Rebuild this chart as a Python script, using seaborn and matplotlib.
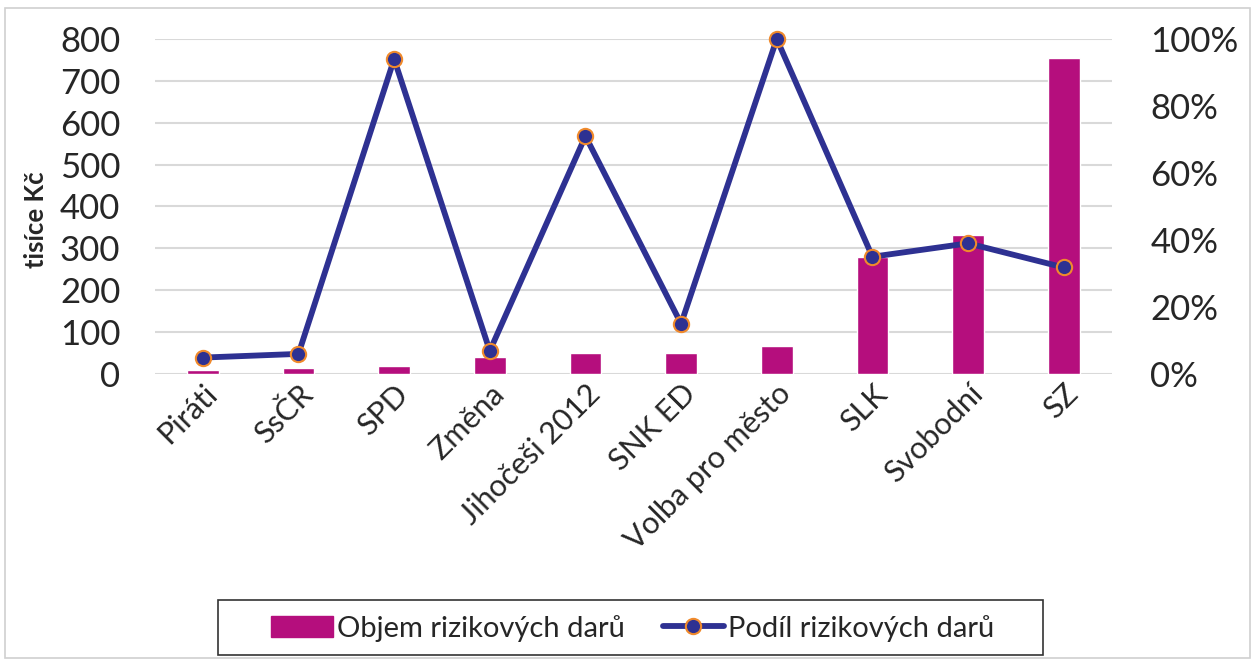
import pandas as pd
import matplotlib.pyplot as plt
import matplotlib.patches as mpatches
from matplotlib.lines import Line2D
from matplotlib.ticker import PercentFormatter
import seaborn as sns

# ========== data ==========
strany = ["Piráti", "SsČR", "SPD", "Změna", "Jihočeši 2012", "SNK ED",
          "Volba pro město", "SLK", "Svobodní", "SZ"]
objem = [10, 14, 19, 40, 49, 49, 68, 279, 332, 754]          # tisíce Kč
podil = [0.049, 0.060, 0.940, 0.069, 0.710, 0.150, 1.000, 0.350, 0.390, 0.318]

df = pd.DataFrame({"strana": strany, "objem": objem, "podil": podil})

BAR = "#B50E7D"
LINE = "#2E3192"
EDGE = "#F08A2C"

sns.set_style("white")
plt.rcParams["font.family"] = ["Lato", "DejaVu Sans"]

fig = plt.figure(figsize=(12.56, 6.65), dpi=100)
ax = fig.add_axes([0.1234, 0.4376, 0.7616, 0.5038])

sns.barplot(data=df, x="strana", y="objem", color=BAR, width=0.33,
            saturation=1, ax=ax, zorder=2)
ax.set_ylim(0, 800)
ax.set_yticks(range(0, 801, 100))
ax.grid(axis="y", color="#D9D9D9", lw=1.5, zorder=0)
ax.set_axisbelow(True)
for s in ax.spines.values():
    s.set_visible(False)
ax.tick_params(axis="y", labelsize=25, length=0, pad=25)
ax.tick_params(axis="x", labelsize=22, length=0, pad=4)
plt.setp(ax.get_xticklabels(), rotation=45, ha="right", rotation_mode="anchor")
ax.set_xlabel("")
ax.set_ylabel("tisíce Kč", fontsize=18.5, fontweight="bold")
ax.yaxis.set_label_coords(-0.112, 0.46)

# ========== secondary axis: share ==========
ax2 = ax.twinx()
sns.pointplot(data=df, x="strana", y="podil", color=LINE, markers="o",
              linewidth=4.2, markersize=11, markeredgecolor=EDGE,
              markeredgewidth=1.5, ax=ax2, clip_on=False)
ax2.set_ylim(0, 1)
ax2.set_yticks([0, 0.2, 0.4, 0.6, 0.8, 1.0])
ax2.yaxis.set_major_formatter(PercentFormatter(1.0, decimals=0))
ax2.tick_params(axis="y", labelsize=25, length=0, pad=28)
ax2.set_ylabel("")
ax2.set_xlabel("")
for s in ax2.spines.values():
    s.set_visible(False)
ax2.set_xlim(ax.get_xlim())

# ========== legend ==========
handles = [mpatches.Patch(color=BAR, label="Objem rizikových darů"),
           Line2D([], [], color=LINE, lw=4.2, marker="o", markersize=11,
                  markeredgecolor=EDGE, markeredgewidth=1.5,
                  label="Podíl rizikových darů")]
leg = fig.legend(handles=handles, loc="center", bbox_to_anchor=(0.504, 0.0556),
                 ncol=2, fontsize=21, frameon=False,
                 handlelength=2.1, columnspacing=1.3, handletextpad=0.15)

# legend box
fig.patches.append(mpatches.Rectangle((218 / 1256, 1 - 655 / 665), 825 / 1256, 55 / 665,
                                      transform=fig.transFigure, fill=False,
                                      edgecolor="#333333", lw=1.2))
# outer chart frame
fig.patches.append(mpatches.Rectangle((0.004, 0.011), 0.991, 0.977,
                                      transform=fig.transFigure, fill=False,
                                      edgecolor="#D0D0D0", lw=1.2))

fig.savefig("out.png", dpi=100)
